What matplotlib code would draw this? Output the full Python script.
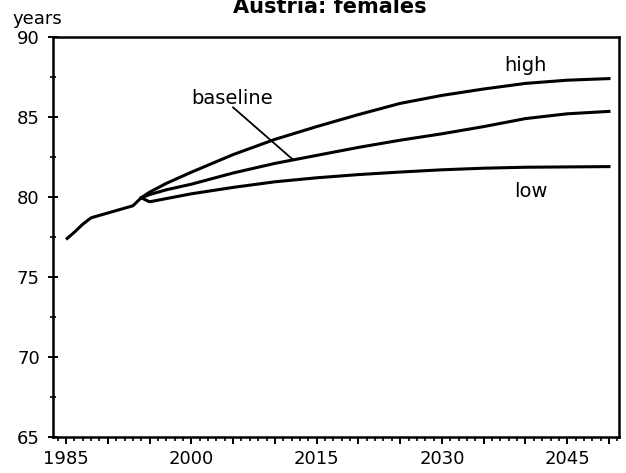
import matplotlib
matplotlib.use("Agg")
import matplotlib.pyplot as plt
from matplotlib.ticker import MultipleLocator, FixedLocator

plt.rcParams['font.family'] = ['DejaVu Sans']

# Observed female life expectancy, Austria
hist_years = [1985, 1986, 1987, 1988, 1989, 1990, 1991, 1992, 1993, 1994]
hist_values = [77.35, 77.8, 78.3, 78.7, 78.85, 79.0, 79.15, 79.3, 79.45, 79.95]

# Projection scenarios
proj_years = [1994, 1995, 1997, 2000, 2005, 2010, 2015, 2020, 2025,
              2030, 2035, 2040, 2045, 2050]
high_values = [79.95, 80.3, 80.85, 81.55, 82.65, 83.6, 84.4, 85.15, 85.85,
               86.35, 86.75, 87.1, 87.3, 87.4]
baseline_values = [79.95, 80.15, 80.45, 80.8, 81.5, 82.1, 82.6, 83.1, 83.55,
                   83.95, 84.4, 84.9, 85.2, 85.35]
low_values = [79.95, 79.7, 79.9, 80.2, 80.6, 80.95, 81.2, 81.4, 81.56,
              81.7, 81.8, 81.86, 81.88, 81.9]

x_tick_labels = [1985, 2000, 2015, 2030, 2045]
y_tick_labels = [65, 70, 75, 80, 85, 90]

W, H = 626, 473
fig = plt.figure(figsize=(W / 100, H / 100), dpi=100)
left, right, top, bottom = 53, 619, 37, 437
ax = fig.add_axes([left / W, 1 - bottom / H, (right - left) / W, (bottom - top) / H])

lw = 2.2
ax.plot(hist_years, hist_values, color='black', lw=lw, solid_capstyle='butt')
ax.plot(proj_years, high_values, color='black', lw=lw)
ax.plot(proj_years, baseline_values, color='black', lw=lw)
ax.plot(proj_years, low_values, color='black', lw=lw)

ax.set_xlim(1983.44, 2051.2)
ax.set_ylim(65, 90)

for s in ax.spines.values():
    s.set_linewidth(1.8)

major_x = list(range(1985, 2051, 5))
ax.xaxis.set_major_locator(FixedLocator(major_x))
ax.xaxis.set_minor_locator(MultipleLocator(1))
ax.set_xticklabels([str(y) if y in x_tick_labels else '' for y in major_x])
ax.yaxis.set_major_locator(FixedLocator(y_tick_labels))
ax.yaxis.set_minor_locator(MultipleLocator(2.5))

ax.tick_params(axis='x', which='major', direction='out', length=5, width=1.4,
               labelsize=13, pad=4)
ax.tick_params(axis='x', which='minor', direction='out', length=3, width=1.2)
ax.tick_params(axis='y', which='major', direction='inout', length=7, width=1.4,
               labelsize=13, pad=6)
ax.tick_params(axis='y', which='minor', direction='inout', length=4.5, width=1.2)

# Scenario labels
ax.text(2040.0, 87.88, 'high', fontsize=14, ha='center', va='baseline')
ax.text(2040.6, 80.0, 'low', fontsize=14, ha='center', va='baseline')
ax.text(2004.9, 85.81, 'baseline', fontsize=14, ha='center', va='baseline')
ax.plot([2005.0, 2012.2], [85.6, 82.32], color='black', lw=1.3)

fig.text(13 / W, 1 - 24 / H, 'years', fontsize=13, ha='left', va='baseline')
fig.text(330 / W, 1 - 13 / H, 'Austria: females', fontsize=15, fontweight='bold',
         ha='center', va='baseline')

fig.savefig('out.png', dpi=100)
